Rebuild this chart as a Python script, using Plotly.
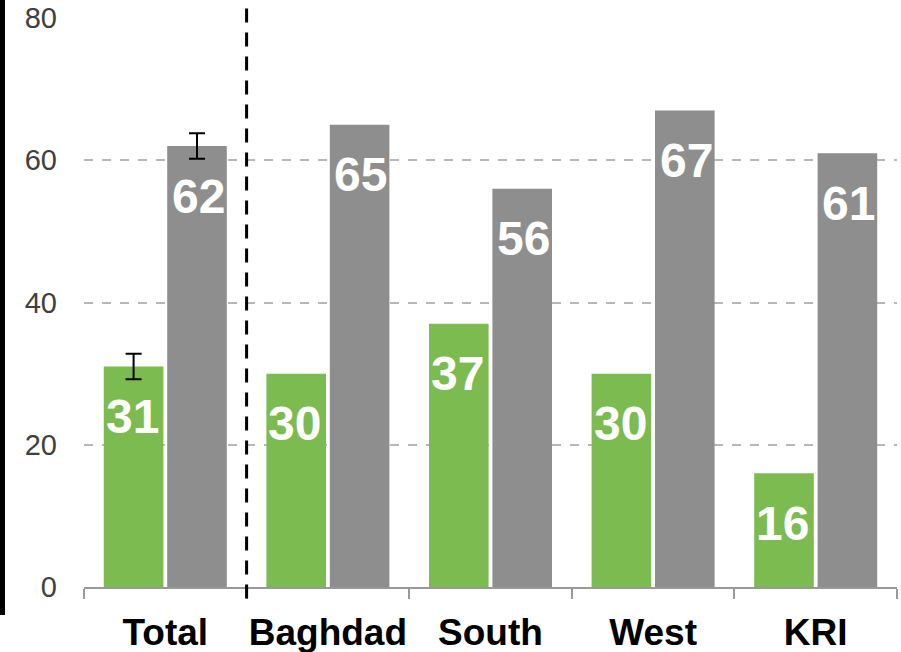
import plotly.graph_objects as go

categories = ["Total", "Baghdad", "South", "West", "KRI"]
green_values = [31, 30, 37, 30, 16]
gray_values = [62, 65, 56, 67, 61]
total_green_err = [1.8]
total_gray_err = [1.8]
y_ticks = [0, 20, 40, 60, 80]

GREEN = "#7cbb50"
GRAY = "#8e8e8e"
FONT = "Liberation Sans, Arial"

fig = go.Figure()
# Regional bars (no error bars)
fig.add_trace(go.Bar(x=categories[1:], y=green_values[1:], offsetgroup="g",
                     marker=dict(color=GREEN, line=dict(width=0)), showlegend=False))
fig.add_trace(go.Bar(x=categories[1:], y=gray_values[1:], offsetgroup="k",
                     marker=dict(color=GRAY, line=dict(width=0)), showlegend=False))
# Total bars with error bars, same offset groups
fig.add_trace(go.Bar(x=categories[:1], y=green_values[:1], offsetgroup="g",
                     marker=dict(color=GREEN, line=dict(width=0)),
                     error_y=dict(type="data", array=total_green_err, visible=True,
                                  color="black", thickness=2, width=8),
                     showlegend=False))
fig.add_trace(go.Bar(x=categories[:1], y=gray_values[:1], offsetgroup="k",
                     marker=dict(color=GRAY, line=dict(width=0)),
                     error_y=dict(type="data", array=total_gray_err, visible=True,
                                  color="black", thickness=2, width=8),
                     showlegend=False))

annotations = []
for i, c in enumerate(categories):
    annotations.append(dict(x=c, y=green_values[i], xref="x", yref="y", text=f"<b>{green_values[i]}</b>",
                            showarrow=False, xshift=-33, yshift=-50, yanchor="middle",
                            font=dict(family=FONT, size=48, color="white")))
    annotations.append(dict(x=c, y=gray_values[i], xref="x", yref="y", text=f"<b>{gray_values[i]}</b>",
                            showarrow=False, xshift=33, yshift=-50, yanchor="middle",
                            font=dict(family=FONT, size=48, color="white")))

fig.update_layout(
    width=901, height=652,
    margin=dict(l=84, r=4, t=18, b=65, autoexpand=False),
    paper_bgcolor="white", plot_bgcolor="white",
    barmode="group", bargap=0.22, bargroupgap=0.06,
    annotations=annotations,
    font=dict(family=FONT),
    xaxis=dict(categoryorder="array", categoryarray=categories,
               showline=True, linecolor="#999999", linewidth=2, ticks="outside",
               tickson="boundaries", ticklen=10, tickcolor="#999999", tickwidth=2,
               tickangle=0, ticklabelstandoff=12,
               tickfont=dict(size=37, color="black", family=FONT, weight="bold"),
               showgrid=False, automargin=False),
    yaxis=dict(range=[0, 80], tickvals=y_ticks, showgrid=True, gridcolor="#b8b8b8",
               griddash="dash", gridwidth=1.5, zeroline=False, showline=False,
               tickfont=dict(size=29, color="#404040"), ticklabelstandoff=26, automargin=False),
    shapes=[
        dict(type="line", xref="x", yref="paper", x0=0.5, x1=0.5, y0=-0.02, y1=1.018,
             line=dict(color="black", width=3, dash="14px,10px")),
        dict(type="rect", xref="paper", yref="paper", x0=-84/813, x1=-79/813,
             y0=-0.049, y1=1.035, fillcolor="black", line=dict(width=0)),
    ],
)

fig.write_html("out.html", config={"displayModeBar": False},
               post_script="document.body.style.margin='0px';")
